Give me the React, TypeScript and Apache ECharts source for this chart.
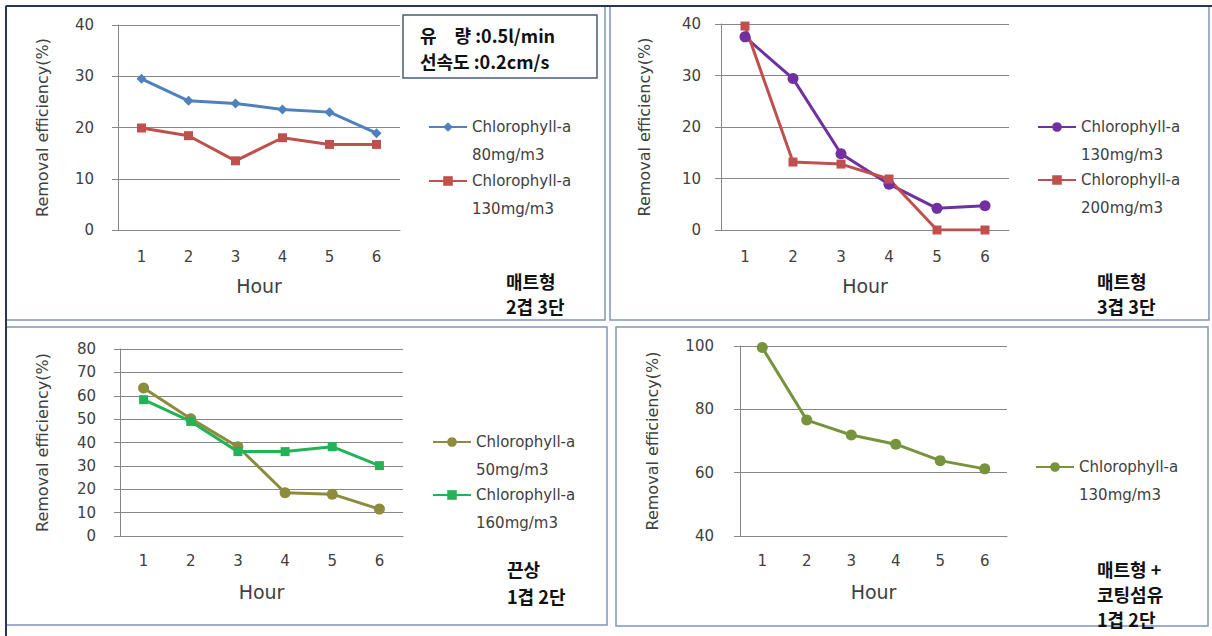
import React, { useEffect, useRef } from "react";
import * as echarts from "echarts";

const hours = ["1", "2", "3", "4", "5", "6"];
const p1Chl80 = [29.5, 25.2, 24.7, 23.5, 23.0, 18.9];
const p1Chl130 = [19.9, 18.4, 13.5, 18.0, 16.7, 16.7];
const p2Chl130 = [37.5, 29.4, 14.8, 8.9, 4.2, 4.7];
const p2Chl200 = [39.6, 13.2, 12.8, 9.9, 0, 0];
const p3Chl50 = [63.3, 50.2, 38.2, 18.5, 17.9, 11.5];
const p3Chl160 = [58.3, 49.0, 36.1, 36.1, 38.2, 30.1];
const p4Chl130 = [99.5, 76.6, 71.9, 69.0, 63.8, 61.2];

const yTitle = "Removal efficiency(%)";
const xTitle = "Hour";

const FONT = '"DejaVu Sans"';
const KFONT = '"Noto Sans CJK KR"';
const GRID_COLOR = "#868686";
const TEXT_COLOR = "#404040";

function xAxis(gridIndex: number, labelMargin: number, nameGap: number) {
  return {
    type: "category",
    gridIndex,
    data: hours,
    boundaryGap: true,
    axisLine: { show: true, lineStyle: { color: GRID_COLOR, width: 1 } },
    axisTick: { show: false },
    axisLabel: { fontFamily: FONT, fontSize: 15, color: TEXT_COLOR, margin: labelMargin },
    name: xTitle,
    nameLocation: "middle",
    nameGap,
    nameTextStyle: { fontFamily: FONT, fontSize: 19, color: TEXT_COLOR },
  };
}

function yAxis(gridIndex: number, min: number, max: number, interval: number, nameGap: number, labelMargin: number) {
  return {
    type: "value",
    gridIndex,
    min,
    max,
    interval,
    name: yTitle,
    nameLocation: "middle",
    nameGap,
    nameTextStyle: { fontFamily: FONT, fontSize: 16, color: TEXT_COLOR },
    axisLine: { show: true, lineStyle: { color: GRID_COLOR, width: 1 } },
    axisTick: { show: true, length: 6, lineStyle: { color: GRID_COLOR } },
    axisLabel: { fontFamily: FONT, fontSize: 15, color: TEXT_COLOR, margin: labelMargin },
    splitLine: { show: true, lineStyle: { color: GRID_COLOR, width: 1 } },
  };
}

function lineSeries(name: string, idx: number, data: number[], color: string, symbol: string, symbolSize: number) {
  return {
    type: "line",
    name,
    xAxisIndex: idx,
    yAxisIndex: idx,
    data,
    symbol,
    symbolSize,
    lineStyle: { color, width: 3 },
    itemStyle: { color },
    z: 3,
  };
}

const legendFormatter = (name: string) => {
  const parts = name.trim().split(" ");
  return "\u00a0\n" + parts[0] + "\n" + parts[1];
};

function legend(name: string, left: number, firstLineY: number) {
  return {
    data: [name],
    left,
    top: firstLineY - 42,
    padding: 0,
    orient: "vertical",
    itemWidth: 38,
    itemHeight: 12,
    selectedMode: false,
    formatter: legendFormatter,
    textStyle: { fontFamily: FONT, fontSize: 15, color: TEXT_COLOR, lineHeight: 28 },
  };
}

function labelLines(lines: string[], x: number, firstCenterY: number, step: number, fontSize = 18) {
  return lines.map((t, i) => ({
    type: "text",
    x,
    y: firstCenterY + i * step,
    z: 11,
    style: {
      text: t,
      fontFamily: KFONT,
      fontWeight: "bold",
      fontSize,
      fill: "#111111",
      verticalAlign: "middle",
      align: "left",
    },
  }));
}

function panel(x: number, y: number, w: number, h: number) {
  return {
    type: "rect",
    shape: { x, y, width: w, height: h },
    style: { fill: "none", stroke: "#7f95b8", lineWidth: 1.5 },
    silent: true,
  };
}

export default function App() {
  const ref = useRef<HTMLDivElement>(null);
  useEffect(() => {
    if (!ref.current) return;
    const chart = echarts.init(ref.current, null, { renderer: "svg" });
    const n1a = "Chlorophyll-a 80mg/m3";
    const n1b = "Chlorophyll-a 130mg/m3";
    const n2a = "Chlorophyll-a 130mg/m3 ";
    const n2b = "Chlorophyll-a 200mg/m3";
    const n3a = "Chlorophyll-a 50mg/m3";
    const n3b = "Chlorophyll-a 160mg/m3";
    const n4a = "Chlorophyll-a 130mg/m3  ";
    chart.setOption({
      animation: false,
      backgroundColor: "#ffffff",
      grid: [
        { left: 118, top: 25, width: 282, height: 205 },
        { left: 721, top: 24, width: 288, height: 206 },
        { left: 120, top: 349, width: 283, height: 187 },
        { left: 740, top: 346, width: 267, height: 190 },
      ],
      xAxis: [xAxis(0, 19, 46), xAxis(1, 19, 46), xAxis(2, 17, 46), xAxis(3, 17, 46)],
      yAxis: [
        yAxis(0, 0, 40, 10, 68, 24),
        yAxis(1, 0, 40, 10, 69, 20),
        yAxis(2, 0, 80, 10, 70, 24),
        yAxis(3, 40, 100, 20, 80, 26),
      ],
      legend: [
        legend(n1a, 428, 127),
        legend(n1b, 428, 181),
        legend(n2a, 1037, 127),
        legend(n2b, 1037, 180),
        legend(n3a, 432, 442),
        legend(n3b, 432, 495),
        legend(n4a, 1035, 467),
      ],
      series: [
        lineSeries(n1a, 0, p1Chl80, "#4f81bd", "diamond", 10),
        lineSeries(n1b, 0, p1Chl130, "#c0504d", "rect", 9),
        lineSeries(n2a, 1, p2Chl130, "#7030a0", "circle", 11),
        lineSeries(n2b, 1, p2Chl200, "#c0504d", "rect", 9),
        lineSeries(n3a, 2, p3Chl50, "#8c8c3c", "circle", 11),
        lineSeries(n3b, 2, p3Chl160, "#22b356", "rect", 9),
        lineSeries(n4a, 3, p4Chl130, "#77933c", "circle", 11),
      ],
      graphic: [
        panel(6, 6, 599, 314),
        panel(610, 6, 599, 314),
        panel(6, 327, 601, 298),
        panel(616, 327, 592, 299),
        { type: "line", shape: { x1: 6, y1: 6, x2: 1212, y2: 6 }, style: { stroke: "#2b3550", lineWidth: 2 }, silent: true },
        { type: "line", shape: { x1: 6, y1: 6, x2: 6, y2: 636 }, style: { stroke: "#2b3550", lineWidth: 2 }, silent: true },
        {
          type: "rect",
          shape: { x: 403, y: 15, width: 194, height: 63 },
          style: { fill: "#ffffff", stroke: "#4a5a7a", lineWidth: 1.5 },
          z: 10,
        },
        ...labelLines(["유\u3000량 :0.5l/min", "선속도 :0.2cm/s"], 420, 35, 26, 18),
        ...labelLines(["매트형", "2겹 3단"], 506, 281, 25),
        ...labelLines(["매트형", "3겹 3단"], 1097, 281, 25),
        ...labelLines(["끈상", "1겹 2단"], 507, 569, 27),
        ...labelLines(["매트형 +", "코팅섬유", "1겹 2단"], 1097, 569, 25),
      ],
    });
    return () => chart.dispose();
  }, []);
  return (
    <div
      ref={ref}
      style={{ position: "absolute", left: 0, top: 0, width: 1212, height: 636 }}
    />
  );
}
